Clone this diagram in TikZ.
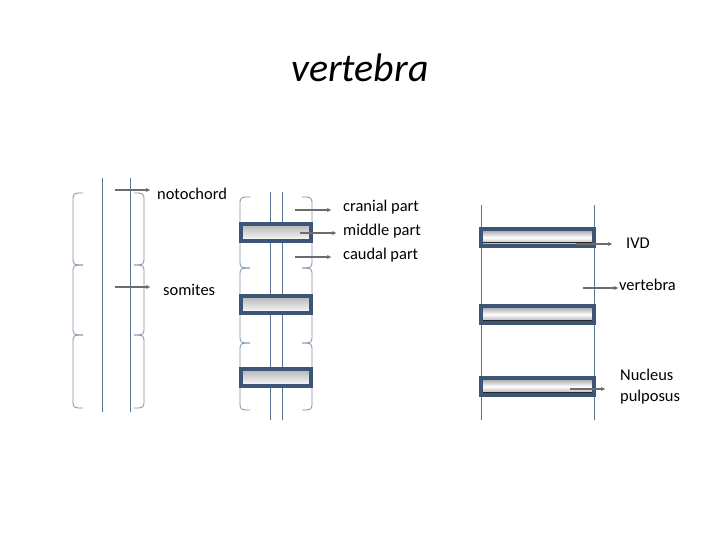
\documentclass[tikz,border=0pt]{standalone}
\usepackage{fontspec}
\setmainfont{Carlito}
\usetikzlibrary{arrows.meta}
\definecolor{lineblue}{HTML}{5B7493}
\definecolor{boxblue}{HTML}{3D5576}
\begin{document}
\begin{tikzpicture}[x=1bp,y=-1bp,
  ln/.style={draw=lineblue, line width=0.8bp},
  br/.style={draw=lineblue!80, line width=0.8bp},
  arr/.style={draw=gray!85!black, line width=1.3bp, -{Stealth[length=4bp,width=4bp]}},
  lab/.style={font=\fontsize{16.5}{20}\selectfont, text=black, inner sep=0pt, anchor=west},
  vbox/.style={draw=boxblue, line width=3.2bp, top color=gray!60, bottom color=white},
  ivd/.style={draw=boxblue, line width=3.2bp, top color=gray!80, bottom color=gray!80, middle color=white}]
\useasboundingbox (0,0) rectangle (720,540);
\node[font=\itshape\fontsize{40}{44}\selectfont] (title) at (360,68) {vertebra};
% left column
\draw[ln] (102,178) -- (102,412);
\draw[ln] (130,178) -- (130,412);
\foreach \a/\b in {193/265,265/335,335/408}{
  \draw[br] (83,\a) .. controls (73,\a) .. (73,\a+9) -- (73,\b-9) .. controls (73,\b) .. (83,\b);
  \draw[br] (134,\a) .. controls (144,\a) .. (144,\a+9) -- (144,\b-9) .. controls (144,\b) .. (134,\b);
}
\coordinate (n0) at (115,190); \coordinate (n1) at (150,190);
\coordinate (s0) at (115,287); \coordinate (s1) at (150,287);
\draw[arr] (n0) -- (n1);
\draw[arr] (s0) -- (s1);
\node[lab] (noto) at (157,194) {notochord};
\node[lab] (som) at (163,290) {somites};
% middle column
\draw[ln] (270,192) -- (270,420);
\draw[ln] (282,192) -- (282,420);
\foreach \a/\b in {197/268,268/343,343/410}{
  \draw[br] (250,\a) .. controls (240,\a) .. (240,\a+9) -- (240,\b-9) .. controls (240,\b) .. (250,\b);
  \draw[br] (302,\a) .. controls (312,\a) .. (312,\a+9) -- (312,\b-9) .. controls (312,\b) .. (302,\b);
}
\foreach \y in {224,296,369}{
  \draw[vbox] (241,\y) rectangle (311,\y+17);
}
\coordinate (c0) at (295,210); \coordinate (c1) at (331,210);
\coordinate (m0) at (300,233); \coordinate (m1) at (336,233);
\coordinate (d0) at (295,257); \coordinate (d1) at (331,257);
\draw[arr] (c0) -- (c1);
\draw[arr] (m0) -- (m1);
\draw[arr] (d0) -- (d1);
\node[lab] (cran) at (343,207) {cranial part};
\node[lab] (mid) at (343,231) {middle part};
\node[lab] (caud) at (343,255) {caudal part};
% right column
\draw[ln] (481,205) -- (481,420);
\draw[ln] (594,205) -- (594,420);
\foreach \y in {229,306,378}{
  \draw[ivd] (481,\y) rectangle (594,\y+17);
  \draw[gray!30!black, line width=1bp] (483,\y+14) -- (592,\y+14);
}
\coordinate (i0) at (576,244); \coordinate (i1) at (612,244);
\coordinate (v0) at (583,288); \coordinate (v1) at (618,288);
\coordinate (p0) at (570,389); \coordinate (p1) at (605,389);
\draw[arr] (i0) -- (i1);
\draw[arr] (v0) -- (v1);
\draw[arr] (p0) -- (p1);
\node[lab] (ivdl) at (626,243) {IVD};
\node[lab] (vert) at (619,285) {vertebra};
\node[lab] (nuc) at (620,375) {Nucleus};
\node[lab] (pul) at (620,397) {pulposus};
\end{tikzpicture}
\end{document}
